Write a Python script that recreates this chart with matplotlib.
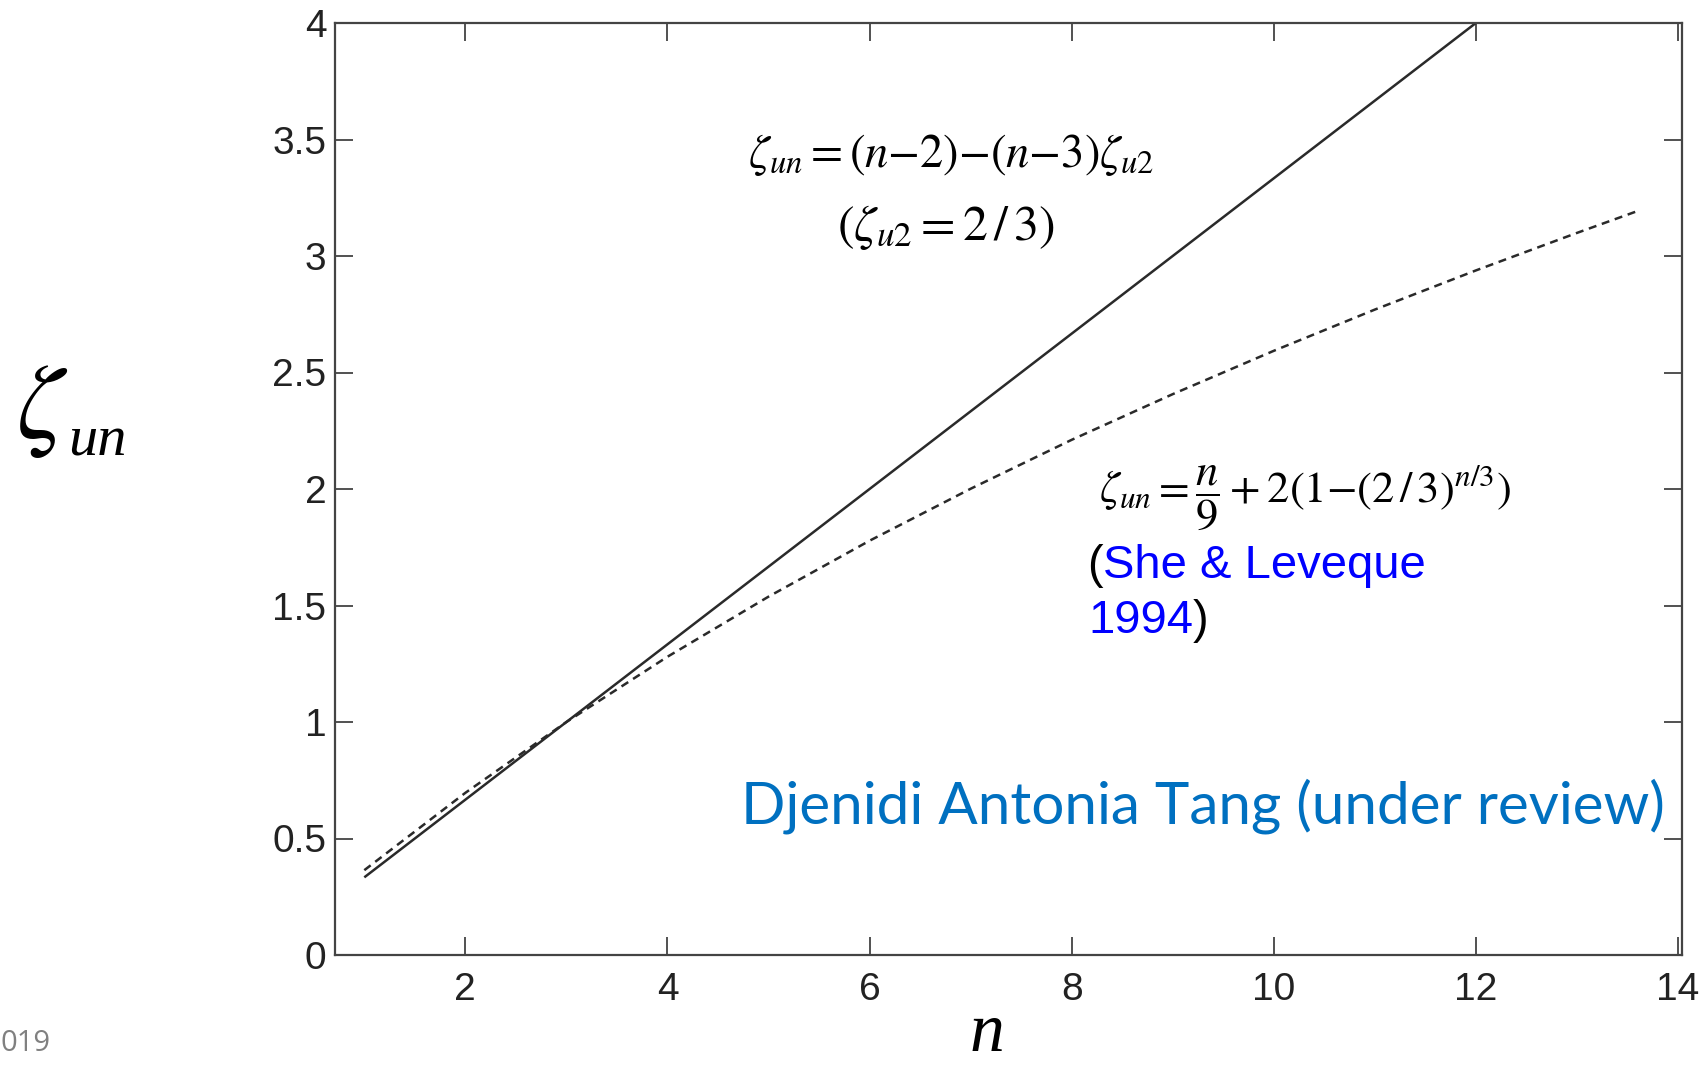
import matplotlib
matplotlib.use("Agg")
import matplotlib.pyplot as plt

# ---- data ----
n_linear = [1, 12]
zeta_linear = [0.3333, 4.0]

n_sl = [1, 2, 3, 4, 5, 6, 7, 8, 9, 10, 11, 12, 13, 13.6]
zeta_sl = [0.364, 0.696, 1.000, 1.280, 1.538, 1.778, 2.001, 2.211,
           2.407, 2.593, 2.770, 2.938, 3.099, 3.193]

x_ticks = [2, 4, 6, 8, 10, 12, 14]
x_tick_labels = ["2", "4", "6", "8", "10", "12", "14"]
y_ticks = [0, 0.5, 1, 1.5, 2, 2.5, 3, 3.5, 4]
y_tick_labels = ["0", "0.5", "1", "1.5", "2", "2.5", "3", "3.5", "4"]

W, H = 1703, 1068
plt.rcParams['mathtext.fontset'] = 'stix'
fig = plt.figure(figsize=(W / 100, H / 100), dpi=100)

def fx(x):
    return x / W

def fy(y):
    return 1 - y / H

ax = fig.add_axes([fx(334.7), fy(955), (1682 - 334.7) / W, (955 - 23) / H])
ax.plot(n_linear, zeta_linear, color='#2a2a2a', lw=1.8, solid_capstyle='butt')
ax.plot(n_sl, zeta_sl, color='#2a2a2a', lw=1.8, linestyle=(0, (3.2, 2.3)))
ax.set_xlim(0.707, 14.04)
ax.set_ylim(0, 4)
ax.set_xticks(x_ticks)
ax.set_xticklabels(x_tick_labels)
ax.set_yticks(y_ticks)
ax.set_yticklabels(y_tick_labels)
for s in ax.spines.values():
    s.set_color('#444444')
    s.set_linewidth(1.6)
tick_font = ['Liberation Sans Narrow', 'Liberation Sans', 'DejaVu Sans']
ax.tick_params(axis='both', direction='in', length=13, width=1.2, color='#333333',
               top=True, right=True, labelsize=28, labelcolor='#222222')
ax.tick_params(axis='x', pad=12)
ax.tick_params(axis='y', pad=6)
for lab in ax.get_xticklabels() + ax.get_yticklabels():
    lab.set_family(tick_font)

# axis labels as free text
fig.text(fx(16), fy(358), r'$\zeta$', fontsize=76, ha='left', va='top', color='black')
fig.text(fx(68), fy(456), 'un', fontsize=42, ha='left', va='baseline',
         family='Liberation Serif', style='italic', color='black')
fig.text(fx(987), fy(1066), 'n', fontsize=50, ha='center', va='bottom',
         family='Liberation Serif', style='italic', color='black')

# equations
fig.text(fx(951), fy(167), r'$\zeta_{un} = (n{-}2){-}(n{-}3)\zeta_{u2}$', fontsize=33.5,
         ha='center', va='baseline', color='black')
fig.text(fx(946), fy(240), r'$(\zeta_{u2} = 2\,/\,3)$', fontsize=36,
         ha='center', va='baseline', color='black')
fig.text(fx(1305), fy(502), r'$\zeta_{un} = \dfrac{n}{9} + 2(1{-}(2\,/\,3)^{n/3})$', fontsize=32,
         ha='center', va='baseline', color='black')

# She & Leveque reference
ref_fs = 34
fig.text(fx(1087), fy(578), '(', fontsize=ref_fs, family='Liberation Sans',
         ha='left', va='baseline', color='black')
fig.text(fx(1103), fy(578), 'She & Leveque', fontsize=ref_fs, family='Liberation Sans',
         ha='left', va='baseline', color='#0000FF')
fig.text(fx(1088), fy(633), '1994', fontsize=ref_fs, family='Liberation Sans',
         ha='left', va='baseline', color='#0000FF')
fig.text(fx(1193), fy(633), ')', fontsize=ref_fs, family='Liberation Sans',
         ha='left', va='baseline', color='black')

fig.text(fx(741), fy(823), 'Djenidi Antonia Tang (under review)', fontsize=42,
         family='Lato', ha='left', va='baseline', color='#0070C0')

fig.text(fx(0), fy(1051), '019', fontsize=21, family='Open Sans',
         ha='left', va='baseline', color='#808080')

fig.savefig('out.png', dpi=100, facecolor='white')
